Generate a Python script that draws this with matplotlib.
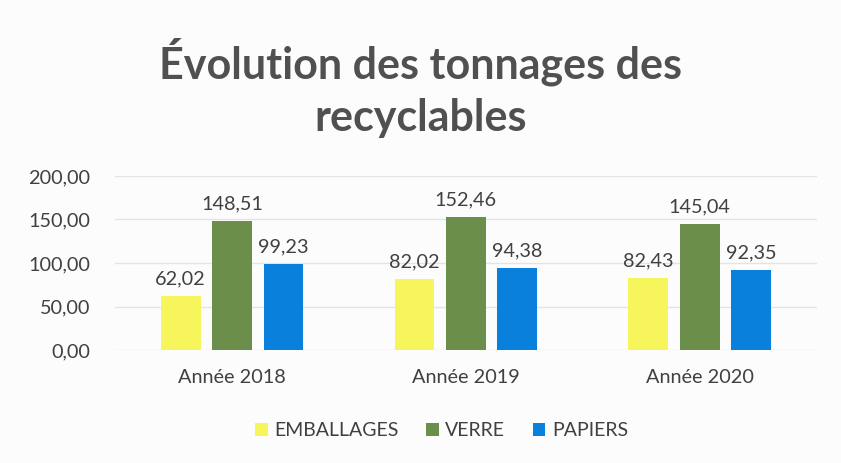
import numpy as np
import matplotlib.pyplot as plt

plt.rcParams['font.family'] = ['Lato', 'DejaVu Sans']

annees = ['Année 2018', 'Année 2019', 'Année 2020']
emballages = [62.02, 82.02, 82.43]
verre = [148.51, 152.46, 145.04]
papiers = [99.23, 94.38, 92.35]

series = [('EMBALLAGES', emballages, '#F6F65C'),
          ('VERRE', verre, '#6B8E4B'),
          ('PAPIERS', papiers, '#0A80DD')]

def fr(v):
    return f"{v:.2f}".replace('.', ',')

fig = plt.figure(figsize=(8.41, 4.63), dpi=100, facecolor='#FCFCFC')
ax = fig.add_axes([0.137, 0.244, 0.834, 0.376])
ax.set_facecolor('#FCFCFC')

x = np.arange(len(annees))
w = 0.17
for i, (nom, vals, col) in enumerate(series):
    pos = x + (i - 1) * 0.22
    ax.bar(pos, vals, w, color=col, label=nom, zorder=3)
    for p, v in zip(pos, vals):
        ax.text(p, v + 10, fr(v), ha='center', va='bottom', fontsize=14.3, color='#404040')

ax.set_ylim(0, 200)
ax.set_xlim(-0.5, 2.5)
ax.set_yticks([0, 50, 100, 150, 200])
ax.set_yticklabels([fr(t) for t in [0, 50, 100, 150, 200]])
ax.set_xticks(x)
ax.set_xticklabels(annees)
ax.tick_params(length=0, labelsize=14.3, colors='#404040')
ax.tick_params(axis='y', pad=18)
ax.tick_params(axis='x', pad=14)
ax.yaxis.grid(True, color='#E4E4E4', lw=1, zorder=0)
for s in ax.spines.values():
    s.set_visible(False)

fig.text(0.5, 0.81, 'Évolution des tonnages des\nrecyclables', ha='center', va='center',
         fontsize=31, fontweight='bold', color='#505050', linespacing=1.36)

fig.legend(loc='center', bbox_to_anchor=(0.525, 0.07), ncol=3, frameon=False,
           fontsize=14, handlelength=0.65, handleheight=0.65, handletextpad=0.35,
           columnspacing=1.4, labelcolor='#404040')

fig.savefig('out.png', dpi=100, facecolor=fig.get_facecolor())
